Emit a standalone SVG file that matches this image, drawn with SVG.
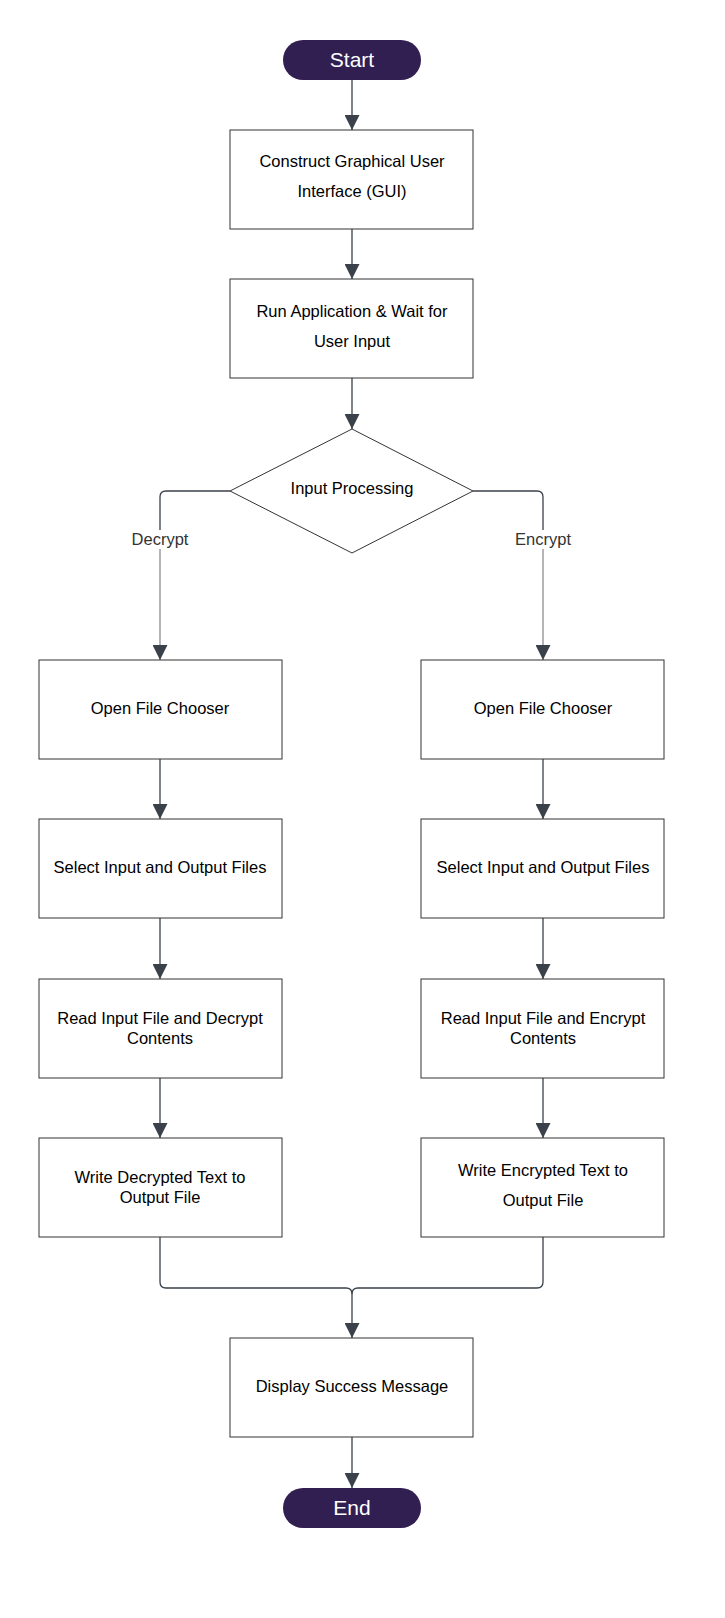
<svg xmlns="http://www.w3.org/2000/svg" width="725" height="1618" viewBox="0 0 725 1618">
<style>
.bg{fill:#ffffff}
.box{fill:#ffffff;stroke:#333333;stroke-width:1}
.pill{fill:#321f52;stroke:none}
.t{font-family:"Liberation Sans",Arial,sans-serif;font-size:16.5px;fill:#000000;text-anchor:middle;dominant-baseline:central}
.pt{font-family:"Liberation Sans",Arial,sans-serif;font-size:21px;fill:#ffffff;text-anchor:middle;dominant-baseline:central}
.lbl{font-family:"Liberation Sans",Arial,sans-serif;font-size:16.5px;fill:#333333;text-anchor:middle;dominant-baseline:central}
.c{fill:none;stroke:#3a414a;stroke-width:1.3}
.cg{fill:none;stroke:#8a8d91;stroke-width:1.3}
</style>
<defs>
<marker id="ah" markerWidth="16" markerHeight="15" refX="15" refY="7.5" orient="auto" markerUnits="userSpaceOnUse">
<path d="M0,0 L15,7.5 L0,15 Z" fill="#3a414a"/>
</marker>
</defs>
<rect class="bg" x="0" y="0" width="725" height="1618"/>
<g id="connectors">
<path class="c" d="M352,80 V130" marker-end="url(#ah)"/>
<path class="c" d="M352,229 V279" marker-end="url(#ah)"/>
<path class="c" d="M352,378 V429" marker-end="url(#ah)"/>
<path class="c" d="M230,491 H166 Q160,491 160,497 V530"/>
<path class="cg" d="M160,549 V660" marker-end="url(#ah)"/>
<path class="c" d="M473,491 H537 Q543,491 543,497 V530"/>
<path class="cg" d="M543,549 V660" marker-end="url(#ah)"/>
<path class="c" d="M160,759 V819" marker-end="url(#ah)"/>
<path class="c" d="M160,918 V979" marker-end="url(#ah)"/>
<path class="c" d="M160,1078 V1138" marker-end="url(#ah)"/>
<path class="c" d="M543,759 V819" marker-end="url(#ah)"/>
<path class="c" d="M543,918 V979" marker-end="url(#ah)"/>
<path class="c" d="M543,1078 V1138" marker-end="url(#ah)"/>
<path class="c" d="M160,1237 V1282 Q160,1288 166,1288 H346 Q352,1288 352,1294"/>
<path class="c" d="M543,1237 V1282 Q543,1288 537,1288 H358 Q352,1288 352,1294"/>
<path class="c" d="M352,1294 V1338" marker-end="url(#ah)"/>
<path class="c" d="M352,1437 V1488" marker-end="url(#ah)"/>
<text class="lbl" x="160" y="539">Decrypt</text>
<text class="lbl" x="543" y="539">Encrypt</text>
</g>
<g id="start">
<rect class="pill" x="283" y="40" width="138" height="40" rx="20"/>
<text class="pt" x="352" y="59">Start</text>
</g>
<g id="construct">
<rect class="box" x="230" y="130" width="243" height="99"/>
<text class="t" x="352" y="161">Construct Graphical User</text>
<text class="t" x="352" y="191">Interface (GUI)</text>
</g>
<g id="run">
<rect class="box" x="230" y="279" width="243" height="99"/>
<text class="t" x="352" y="311">Run Application &amp; Wait for</text>
<text class="t" x="352" y="341">User Input</text>
</g>
<g id="decision">
<polygon class="box" points="352,429 473,491 352,553 230,491"/>
<text class="t" x="352" y="488">Input Processing</text>
</g>
<g id="dec-open">
<rect class="box" x="39" y="660" width="243" height="99"/>
<text class="t" x="160" y="708">Open File Chooser</text>
</g>
<g id="dec-select">
<rect class="box" x="39" y="819" width="243" height="99"/>
<text class="t" x="160" y="867">Select Input and Output Files</text>
</g>
<g id="dec-read">
<rect class="box" x="39" y="979" width="243" height="99"/>
<text class="t" x="160" y="1018">Read Input File and Decrypt</text>
<text class="t" x="160" y="1038">Contents</text>
</g>
<g id="dec-write">
<rect class="box" x="39" y="1138" width="243" height="99"/>
<text class="t" x="160" y="1177">Write Decrypted Text to</text>
<text class="t" x="160" y="1197">Output File</text>
</g>
<g id="enc-open">
<rect class="box" x="421" y="660" width="243" height="99"/>
<text class="t" x="543" y="708">Open File Chooser</text>
</g>
<g id="enc-select">
<rect class="box" x="421" y="819" width="243" height="99"/>
<text class="t" x="543" y="867">Select Input and Output Files</text>
</g>
<g id="enc-read">
<rect class="box" x="421" y="979" width="243" height="99"/>
<text class="t" x="543" y="1018">Read Input File and Encrypt</text>
<text class="t" x="543" y="1038">Contents</text>
</g>
<g id="enc-write">
<rect class="box" x="421" y="1138" width="243" height="99"/>
<text class="t" x="543" y="1170">Write Encrypted Text to</text>
<text class="t" x="543" y="1200">Output File</text>
</g>
<g id="display">
<rect class="box" x="230" y="1338" width="243" height="99"/>
<text class="t" x="352" y="1386">Display Success Message</text>
</g>
<g id="end">
<rect class="pill" x="283" y="1488" width="138" height="40" rx="20"/>
<text class="pt" x="352" y="1507">End</text>
</g>
</svg>
